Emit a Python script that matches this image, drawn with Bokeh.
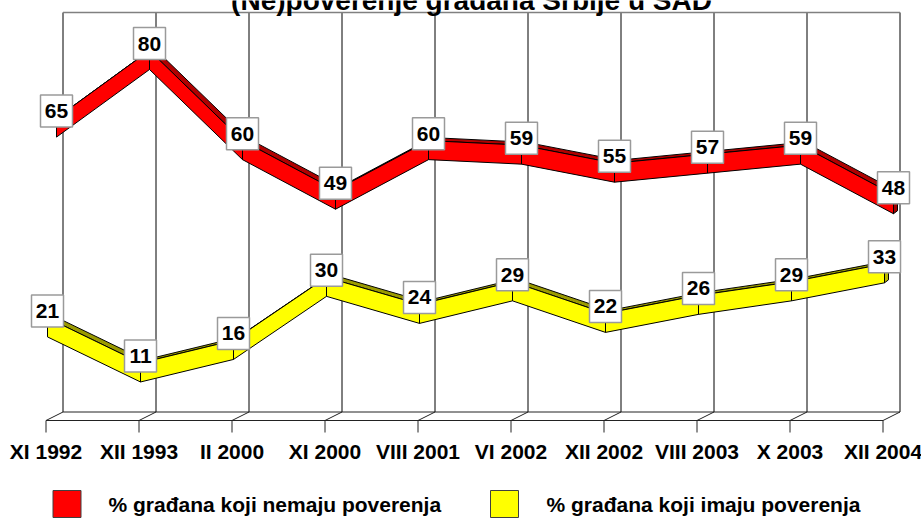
from bokeh.plotting import figure
from bokeh.models import Range1d, ColumnDataSource
from bokeh.core.properties import value
from bokeh.embed import file_html
from bokeh.resources import INLINE

# ---- data ----
categories = ["XI 1992", "XII 1993", "II 2000", "XI 2000", "VIII 2001",
              "VI 2002", "XII 2002", "VIII 2003", "X 2003", "XII 2004"]
nemaju = [65, 80, 60, 49, 60, 59, 55, 57, 59, 48]
imaju = [21, 11, 16, 30, 24, 29, 22, 26, 29, 33]
series_names = ["% građana koji nemaju poverenja", "% građana koji imaju poverenja"]
title_text = "(Ne)poverenje građana Srbije u SAD"

# ---- layout constants (page pixels) ----
W, H = 921, 519
SX = 93.0      # px per category
SY = 4.507     # px per percent
X0PX = 45.5    # page x of first category (front)
Y80PX = 43.0   # page y of value 80


def PX(px):
    return (px - X0PX) / SX


def PY(py):
    return 80 - (py - Y80PX) / SY


def DX(px):
    return px / SX


def DY(px):  # page-down pixels -> data offset
    return -px / SY


FONT = value("Liberation Sans")

p = figure(width=W, height=H, output_backend="svg", toolbar_location=None,
           x_range=Range1d(PX(0), PX(W)), y_range=Range1d(PY(H), PY(0)),
           x_axis_location=None, y_axis_location=None, min_border=0)
p.grid.visible = False
p.outline_line_color = None
p.background_fill_color = "white"
p.border_fill_color = "white"

n = len(categories)
idx = list(range(n))

# ---- back wall gridlines ----
depth_x = DX(17)
wall_top = PY(12)
wall_bot = PY(411.5)
p.segment(x0=[i + depth_x for i in idx], y0=[wall_bot] * n,
          x1=[i + depth_x for i in idx], y1=[wall_top] * n,
          line_color="black", line_width=1)
p.segment(x0=[depth_x], y0=[wall_top], x1=[n - 1 + depth_x], y1=[wall_top],
          line_color="#808080", line_width=1.5)

# ---- floor ----
floor_front = PY(420)
p.segment(x0=[depth_x], y0=[wall_bot], x1=[n - 1 + depth_x], y1=[wall_bot],
          line_color="#222222", line_width=1)
p.segment(x0=[0], y0=[floor_front], x1=[n - 1], y1=[floor_front],
          line_color="#222222", line_width=1)
p.segment(x0=idx, y0=[floor_front] * n, x1=[i + depth_x for i in idx], y1=[wall_bot] * n,
          line_color="#222222", line_width=1)
p.segment(x0=idx, y0=[floor_front] * n, x1=idx, y1=[PY(432)] * n,
          line_color="#222222", line_width=1)

# ---- category labels ----
p.text(x=idx, y=[PY(451)] * n, text=categories, text_align="center",
       text_baseline="middle", text_font=FONT, text_font_style="bold",
       text_font_size="21px", text_color="black")


# ---- ribbons ----
def ribbon(vals, off_x_px, off_y_px, front_col, top_col, cap_col):
    lx = [i + DX(off_x_px) for i in idx]
    ly = [v + DY(off_y_px) for v in vals]
    top = [y + DY(7) for y in ly]
    bot = [y + DY(26) for y in ly]
    ddx, ddy = DX(4), DY(-3)
    txs, tys, fxs, fys = [], [], [], []
    for i in range(n - 1):
        txs.append([lx[i], lx[i + 1], lx[i + 1] + ddx, lx[i] + ddx])
        tys.append([top[i], top[i + 1], top[i + 1] + ddy, top[i] + ddy])
        fxs.append([lx[i], lx[i + 1], lx[i + 1], lx[i]])
        fys.append([top[i], top[i + 1], bot[i + 1], bot[i]])
    p.patches(xs=txs, ys=tys, fill_color=top_col, line_color="black", line_width=1)
    p.patches(xs=fxs, ys=fys, fill_color=front_col, line_color="black", line_width=1)
    e = n - 1
    p.patches(xs=[[lx[e], lx[e] + ddx, lx[e] + ddx, lx[e]]],
              ys=[[top[e], top[e] + ddy, bot[e] + ddy, bot[e]]],
              fill_color=cap_col, line_color="black", line_width=1)
    return lx, ly


rlx, rly = ribbon(nemaju, 10.5, 0.0, "#FF0000", "#B00000", "#A00000")
ylx, yly = ribbon(imaju, 1.5, 1.5, "#FFFF00", "#9A9A00", "#B8B800")

# ---- data labels ----
lab = ColumnDataSource(dict(x=rlx + ylx, y=rly + yly,
                            t=[str(v) for v in nemaju] + [str(v) for v in imaju]))
p.rect(x="x", y="y", width=32, height=32, width_units="screen", height_units="screen",
       source=lab, fill_color="white", line_color="#9a9a9a", line_width=1.5)
p.text(x="x", y="y", text="t", source=lab, text_align="center", text_baseline="middle",
       text_font=FONT, text_font_style="bold", text_font_size="21px", text_color="black")

# ---- title (partly cut by the top edge, as in the reference) ----
p.text(x=[PX(471)], y=[PY(0)], text=[title_text], text_align="center",
       text_baseline="middle", text_font=FONT, text_font_style="bold",
       text_font_size="28px", text_color="black")

# ---- legend ----
p.rect(x=[PX(66.5), PX(504)], y=[PY(503.5), PY(503.5)], width=28, height=27,
       width_units="screen", height_units="screen",
       fill_color=["#FF0000", "#FFFF00"], line_color="#404040", line_width=1)
p.text(x=[PX(108), PX(546)], y=[PY(504), PY(504)], text=series_names,
       text_align="left", text_baseline="middle", text_font=FONT,
       text_font_style="bold", text_font_size="21px", text_color="black")

open("out.html", "w").write(file_html(p, INLINE))
